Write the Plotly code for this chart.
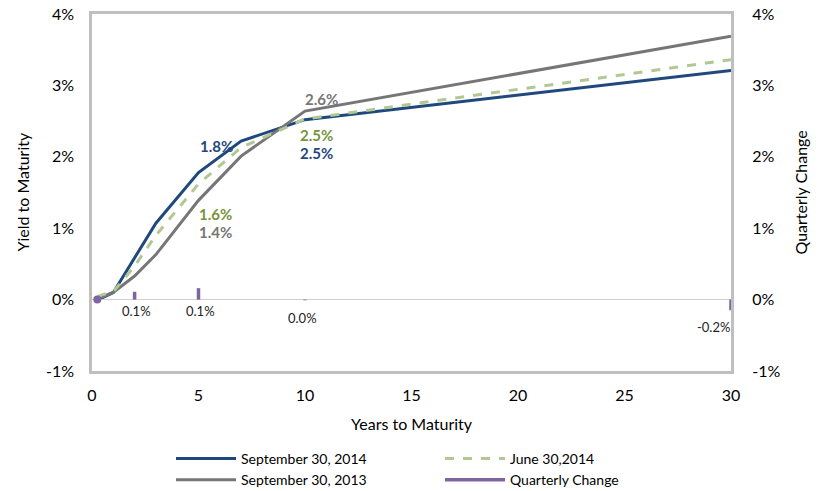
import plotly.graph_objects as go

maturities = [0.25, 0.5, 1, 2, 3, 5, 7, 10, 30]
sep_2014 = [0.02, 0.03, 0.10, 0.58, 1.07, 1.78, 2.22, 2.52, 3.21]
jun_2014 = [0.04, 0.07, 0.11, 0.47, 0.90, 1.62, 2.13, 2.53, 3.36]
sep_2013 = [0.02, 0.04, 0.10, 0.33, 0.63, 1.39, 2.01, 2.64, 3.69]

chg_maturities = [0.25, 2, 5, 10, 30]
chg_values = [0.0, 0.11, 0.16, -0.01, -0.15]
chg_labels = ["", "0.1%", "0.1%", "0.0%", "-0.2%"]

y_ticks = [-1, 0, 1, 2, 3, 4]
y_ticktext = ["-1%", "0%", "1%", "2%", "3%", "4%"]
x_ticks = [0, 5, 10, 15, 20, 25, 30]

FONT = "Lato, 'Open Sans', sans-serif"
BLUE = "#1F497D"
GREEN_LINE = "#B2C894"
GREEN_TXT = "#77933C"
GRAY = "#767676"
PURPLE = "#8064A2"

fig = go.Figure()
fig.add_trace(go.Scatter(x=maturities, y=sep_2014, mode="lines", name="September 30, 2014",
                         line=dict(color=BLUE, width=3), legend="legend"))
fig.add_trace(go.Scatter(x=maturities, y=sep_2013, mode="lines", name="September 30, 2013",
                         line=dict(color=GRAY, width=3), legend="legend"))
fig.add_trace(go.Scatter(x=maturities, y=jun_2014, mode="lines", name="June 30,2014",
                         line=dict(color=GREEN_LINE, width=3, dash="dash"), legend="legend2"))

qx, qy = [], []
for m, v in zip(chg_maturities, chg_values):
    qx += [m, m, None]
    qy += [0, v, None]
fig.add_trace(go.Scatter(x=qx, y=qy, mode="lines", name="Quarterly Change",
                         line=dict(color=PURPLE, width=3.5), yaxis="y2", legend="legend2"))
fig.add_trace(go.Scatter(x=[chg_maturities[0]], y=[chg_values[0]], mode="markers",
                         marker=dict(color=PURPLE, size=8), yaxis="y2", showlegend=False))

ann = []
shifts = [(0, 0), (2, -11), (2, -11), (-3, -18), (-18, -27)]
for m, v, t, (dx, dy) in zip(chg_maturities, chg_values, chg_labels, shifts):
    if t:
        ann.append(dict(x=m, y=0, yref="y2", text=t, showarrow=False, xshift=dx, yshift=dy,
                        font=dict(family=FONT, size=13, color="#222222")))

def lab(i, series, text, color, dx, dy):
    ann.append(dict(x=maturities[i], y=series[i], text=text, showarrow=False, xshift=dx, yshift=dy,
                    font=dict(family=FONT, size=15, color=color, weight="bold")))

lab(5, sep_2014, "1.8%", BLUE, 18, 27)
lab(5, jun_2014, "1.6%", GREEN_TXT, 17, -30)
lab(5, sep_2013, "1.4%", GRAY, 17, -32)
lab(7, sep_2013, "2.6%", GRAY, 16, 12)
lab(7, jun_2014, "2.5%", GREEN_TXT, 11, -16)
lab(7, sep_2014, "2.5%", BLUE, 11, -33)

title_font = dict(family=FONT, size=16, color="#000000")
ann.append(dict(x=0.5, y=-0.148, xref="paper", yref="paper", text="Years to Maturity", showarrow=False,
                yanchor="middle", font=title_font))
ann.append(dict(x=-0.1095, y=0.5, xref="paper", yref="paper", text="Yield to Maturity", showarrow=False,
                textangle=-90, xanchor="center", font=title_font))
ann.append(dict(x=1.108, y=0.5, xref="paper", yref="paper", text="Quarterly Change", showarrow=False,
                textangle=-90, xanchor="center", font=title_font))
ann.append(dict(x=0.5, y=1, xref="paper", yref="paper", text="Treasury Yield Curve", showarrow=False,
                yanchor="bottom", yshift=5, font=dict(family=FONT, size=20, color="#000000", weight="bold")))

axis_font = dict(family=FONT, size=16, color="#000000")
fig.update_layout(
    width=813, height=483,
    margin=dict(l=84, r=90, t=6, b=120, autoexpand=False),
    paper_bgcolor="white", plot_bgcolor="white",
    font=dict(family=FONT, size=15, color="#000000"),
    xaxis=dict(range=[0, 30], tickvals=x_ticks, showgrid=False, zeroline=False,
               showline=True, linecolor="#BFBFBF", linewidth=2.5, mirror=True,
               ticks="outside", ticklen=8, tickcolor="rgba(0,0,0,0)", tickfont=axis_font,
               automargin=False),
    yaxis=dict(range=[-1, 4], tickvals=y_ticks, ticktext=y_ticktext, showgrid=False,
               zeroline=True, zerolinecolor="#D0D0D0", zerolinewidth=1,
               showline=True, linecolor="#BFBFBF", linewidth=2.5, mirror=True,
               ticks="outside", ticklen=12, tickcolor="rgba(0,0,0,0)", tickfont=axis_font,
               automargin=False, ticklabeloverflow="allow"),
    yaxis2=dict(range=[-1, 4], tickvals=y_ticks, ticktext=y_ticktext, overlaying="y", side="right",
                showgrid=False, zeroline=False, showline=False,
                ticks="outside", ticklen=17, tickcolor="rgba(0,0,0,0)", tickfont=axis_font,
                automargin=False, ticklabeloverflow="allow"),
    legend=dict(x=163 / 813, y=48 / 483, xref="container", yref="container", xanchor="left", yanchor="top",
                orientation="v", font=dict(family=FONT, size=14), tracegroupgap=0, itemwidth=60,
                bgcolor="rgba(0,0,0,0)"),
    legend2=dict(x=432 / 813, y=48 / 483, xref="container", yref="container", xanchor="left", yanchor="top",
                 orientation="v", font=dict(family=FONT, size=14), tracegroupgap=0, itemwidth=60,
                 bgcolor="rgba(0,0,0,0)"),
    annotations=ann,
    showlegend=True,
)

fig.write_html("out.html")
